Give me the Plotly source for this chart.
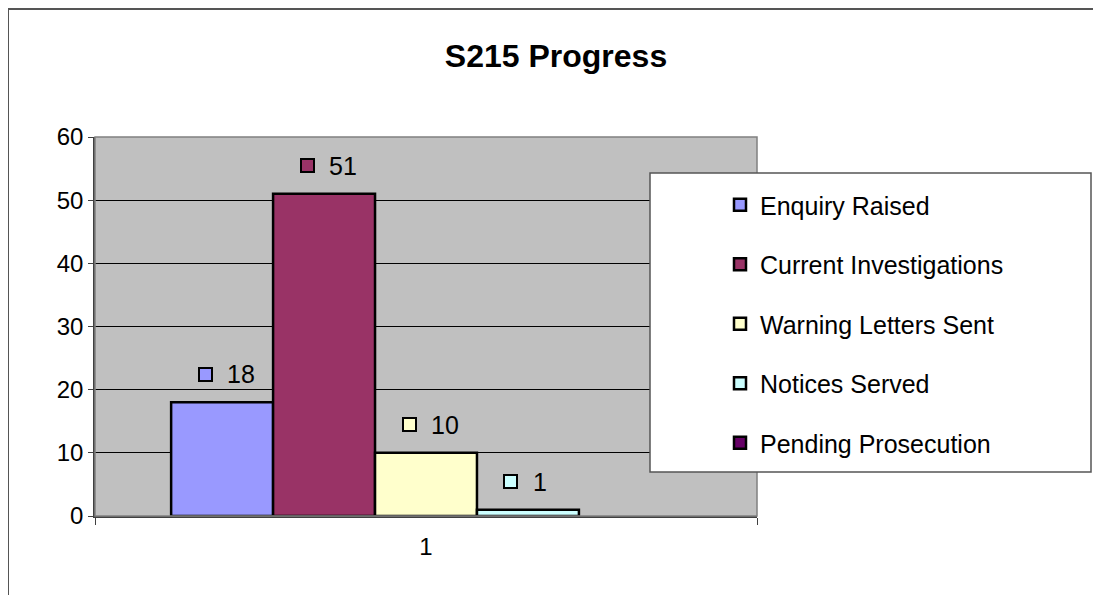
"""S215 progress: clustered column chart in the old Excel look."""

import plotly.graph_objects as go

categories = ["1"]
series_names = [
    "Enquiry Raised",
    "Current Investigations",
    "Warning Letters Sent",
    "Notices Served",
    "Pending Prosecution",
]
series_values = [18, 51, 10, 1, None]
series_colors = ["#9999FF", "#993366", "#FFFFCC", "#CCFFFF", "#660066"]
y_ticks = [0, 10, 20, 30, 40, 50, 60]

W, H = 1101, 595
OFF = 8  # page body margin
PL, PR, PT, PB = 95 - OFF, 757 - OFF, 137 - OFF, 516 - OFF  # plot area, figure px
FONT = "Liberation Sans, Arial, sans-serif"
BARGAP = 0.23


def px_x(px):
    return (px - OFF - PL) / (PR - PL)


def px_y(py):
    return (PB - (py - OFF)) / (PB - PT)


fig = go.Figure()
for i, (name, val, col) in enumerate(zip(series_names, series_values, series_colors)):
    fig.add_trace(go.Bar(
        x=categories, y=[val], name=name, legendgroup=name,
        marker=dict(color=col, line=dict(color="black", width=2.5)),
        hoverinfo="name+y",
    ))

# data labels: small colour key plus value, above each bar
n = len(series_names)
bw = (1 - BARGAP) / n
annotations = []
for i, (val, col) in enumerate(zip(series_values, series_colors)):
    if val is None:
        continue
    xc = -(1 - BARGAP) / 2 + (i + 0.5) * bw
    annotations.append(dict(
        x=xc, y=val, xref="x", yref="y", text=" ", showarrow=False,
        xshift=-17, yshift=28, width=11, height=11, borderpad=0,
        bgcolor=col, bordercolor="black", borderwidth=2,
        font=dict(size=6),
    ))
    annotations.append(dict(
        x=xc, y=val, xref="x", yref="y", text=str(val), showarrow=False,
        xanchor="left", xshift=3, yshift=28,
        font=dict(family=FONT, size=25, color="black"),
    ))

shapes = [
    # plot area frame
    dict(type="rect", xref="paper", yref="paper", x0=0, x1=1, y0=0, y1=1,
         line=dict(color="#808080", width=1.5), layer="above"),
    # legend box
    dict(type="rect", xref="paper", yref="paper",
         x0=px_x(650), x1=px_x(1091), y0=px_y(472), y1=px_y(173),
         fillcolor="white", line=dict(color="#555555", width=1.5), layer="above"),
    # outer chart border
    dict(type="rect", xref="paper", yref="paper",
         x0=px_x(8), x1=px_x(1130), y0=px_y(640), y1=px_y(9),
         line=dict(color="#555555", width=2), layer="above"),
]

fig.update_layout(
    width=W, height=H,
    margin=dict(l=PL, r=W - PR, t=PT, b=H - PB),
    paper_bgcolor="white", plot_bgcolor="#C0C0C0",
    barmode="group", bargap=BARGAP, bargroupgap=0,
    font=dict(family=FONT, size=24, color="black"),
    title=dict(text="<b>S215 Progress</b>", x=(556 - OFF) / W, y=1 - (56 - OFF) / H,
               xanchor="center", yanchor="middle", xref="container", yref="container",
               font=dict(family=FONT, size=32, color="black")),
    legend=dict(
        x=px_x(720), y=px_y(182), xanchor="left", yanchor="top",
        bgcolor="rgba(0,0,0,0)", borderwidth=0,
        font=dict(family=FONT, size=25, color="black"),
        tracegroupgap=24, itemclick=False,
    ),
    showlegend=True,
    annotations=annotations,
    shapes=shapes,
)
fig.update_xaxes(
    type="category", showgrid=False, showline=True, linecolor="#404040", linewidth=1.5,
    ticks="outside", tickson="boundaries", ticklen=7, tickcolor="#404040",
    ticklabelstandoff=8,
    tickfont=dict(family=FONT, size=24), fixedrange=True,
)
fig.update_yaxes(
    range=[0, 60], tickvals=y_ticks, showgrid=True, gridcolor="black", gridwidth=1,
    showline=True, linecolor="#404040", linewidth=1.5, zeroline=False,
    ticks="outside", ticklen=5, tickcolor="#404040",
    tickfont=dict(family=FONT, size=24), fixedrange=True,
)

fig.write_html("out.html")
